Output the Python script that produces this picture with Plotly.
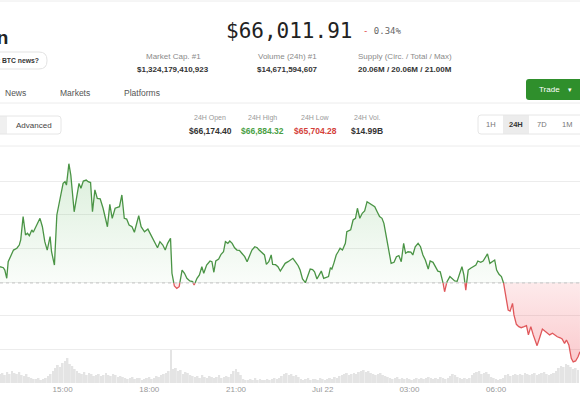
import numpy as np
import pandas as pd
import plotly.graph_objects as go

W, H = 580, 400
SANS = "Liberation Sans, Arial, sans-serif"
MONO = "DejaVu Sans Mono, monospace"

# ---------------- data ----------------
start = pd.Timestamp("2024-07-21 12:50")
view_minutes = 1204.1

minutes = [0, 7, 10, 14, 17, 24, 28, 35, 40, 43, 48, 53, 57, 61, 66, 69, 73, 77, 83, 88,
           93, 98, 104, 107, 113, 118, 123, 128, 131, 135, 138, 143, 147, 154, 159, 164, 168, 173, 179, 183,
           188, 192, 197, 202, 208, 214, 223, 228, 233, 239,
           248, 253, 258, 263, 268, 274, 279, 284, 288, 293, 300, 307, 313, 320, 327, 332, 338, 343, 348, 354,
           357, 362, 367, 372, 378, 383, 388, 394, 400, 403, 409, 414, 419, 423, 429, 436, 440, 444, 448, 454,
           459, 464, 468, 473, 477, 482,
           487, 492, 497, 502, 508, 513, 518, 523, 529, 534, 538, 544, 549, 553, 558, 563, 566, 572, 577, 582,
           587, 592, 598, 603, 608, 613, 619, 623, 628, 634, 639, 644, 649, 653, 658, 663, 667, 672, 677, 682,
           686, 689, 693, 698, 702, 706, 711, 717, 720,
           728, 733, 738, 742, 747, 752, 757, 762, 767, 772, 778, 783, 788, 793, 797, 802, 807, 812, 818, 823,
           828, 833, 838, 842, 847, 853, 857, 862, 868, 873, 878, 883, 889, 893, 899, 904, 909, 914, 918, 923,
           928, 934, 938, 944, 949, 954, 959, 963,
           967, 972, 977, 983, 988, 992, 998, 1003, 1007, 1012, 1017, 1022, 1027, 1031, 1036, 1041, 1045, 1050, 1055, 1059,
           1064, 1067, 1072, 1077, 1082, 1088, 1093, 1097, 1102, 1107, 1111, 1115, 1121, 1126, 1131, 1136, 1141, 1147, 1152, 1157,
           1163, 1167, 1172, 1176, 1181, 1186, 1190, 1195, 1200, 1204]

prices = [66271, 66265, 66251, 66202, 66301, 66341, 66370, 66381, 66400, 66430, 66569, 66460, 66470, 66456, 66490, 66476, 66500, 66519, 66559, 66509,
          66420, 66370, 66450, 66360, 66281, 66579, 66648, 66717, 66767, 66777, 66757, 66884, 66817, 66598, 66688, 66767, 66738, 66781, 66787, 66777,
          66772, 66598, 66728, 66678, 66675, 66619, 66509, 66642, 66559, 66619,
          66628, 66698, 66559, 66555, 66519, 66509, 66476, 66529, 66575, 66509, 66479, 66495, 66464, 66420, 66384, 66420, 66400, 66370, 66410, 66440,
          66232, 66156, 66142, 66152, 66251, 66232, 66202, 66186, 66182, 66162, 66202, 66222, 66271, 66232, 66281, 66305, 66301, 66238, 66305, 66317,
          66345, 66360, 66420, 66410, 66424, 66410,
          66384, 66370, 66368, 66351, 66331, 66301, 66331, 66370, 66390, 66384, 66370, 66357, 66341, 66285, 66301, 66341, 66285, 66283, 66271, 66245,
          66271, 66291, 66301, 66311, 66321, 66301, 66277, 66251, 66198, 66176, 66222, 66257, 66254, 66241, 66198, 66226, 66245, 66202, 66206, 66212,
          66265, 66257, 66291, 66341, 66360, 66381, 66370, 66410, 66479,
          66490, 66549, 66559, 66619, 66559, 66589, 66603, 66658, 66648, 66642, 66628, 66598, 66569, 66559, 66529, 66450, 66370, 66291, 66297, 66331,
          66337, 66301, 66410, 66351, 66360, 66358, 66341, 66390, 66410, 66390, 66341, 66311, 66257, 66305, 66297, 66271, 66245, 66241, 66202, 66122,
          66182, 66212, 66202, 66186, 66184, 66222, 66271, 66222,
          66132, 66251, 66262, 66271, 66281, 66305, 66297, 66305, 66321, 66347, 66291, 66301, 66311, 66251, 66226, 66212, 66182, 66083, 66013, 66007,
          66053, 65984, 65928, 65914, 65908, 65914, 65920, 65865, 65914, 65865, 65825, 65801, 65854, 65900, 65888, 65875, 65865, 65875, 65862, 65854,
          65848, 65841, 65815, 65835, 65805, 65726, 65704, 65710, 65735, 65765]

open_price = 66174.40

# volume per 5-minute bar, $M
vol_step = 5
volumes = [54, 60, 48, 66, 54, 72, 60, 54, 66, 48, 42, 54, 36, 30, 24, 24, 30, 18, 24, 30,
           42, 54, 72, 90, 108, 96, 120, 132, 150, 114, 102, 84, 72, 60, 54, 66, 48, 60, 54, 42,
           48, 54, 42, 48, 60, 48, 42, 54, 48, 36, 42, 36, 30, 24, 30, 36, 24, 30, 30, 18,
           24, 30, 36, 24, 30, 42, 36, 48, 54, 60, 72, 198, 84, 90, 72, 78, 54, 66, 60, 48,
           42, 36, 42, 30, 48, 36, 30, 42, 36, 30, 36, 48, 30, 36, 42, 36, 54, 72, 84, 66,
           48, 24, 18, 18, 24, 18, 30, 18, 24, 18, 18, 24, 18, 24, 30, 24, 30, 42, 54, 60,
           48, 54, 42, 48, 36, 24, 18, 24, 30, 18, 24, 24, 18, 30, 24, 18, 24, 30, 24, 36,
           30, 42, 48, 54, 60, 48, 54, 60, 54, 66, 72, 78, 66, 72, 60, 54, 48, 54, 60, 48,
           42, 36, 30, 24, 30, 36, 24, 30, 24, 30, 24, 18, 24, 30, 24, 30, 24, 30, 36, 30,
           24, 30, 24, 36, 30, 24, 30, 42, 54, 48, 36, 30, 24, 30, 24, 30, 48, 60, 66, 72,
           54, 60, 66, 54, 36, 30, 24, 18, 24, 30, 48, 54, 42, 48, 54, 48, 54, 48, 60, 54,
           48, 54, 60, 48, 54, 60, 66, 54, 48, 54, 60, 72, 90, 102, 96, 114, 108, 96, 84, 90,
           78]

tick_times = ["2024-07-21 15:00", "2024-07-21 18:00", "2024-07-21 21:00", "2024-07-22 00:00",
              "2024-07-22 03:00", "2024-07-22 06:00", "2024-07-22 09:00"]
tick_labels = ["15:00", "18:00", "21:00", "Jul 22", "03:00", "06:00", "09:00"]

price_text = "$66,011.91"
change_text = "0.34%"
stat_labels = ["Market Cap. #1", "Volume (24h) #1", "Supply (Circ. / Total / Max)"]
stat_values = ["$1,324,179,410,923", "$14,671,594,607", "20.06M / 20.06M / 21.00M"]
nav_items = ["News", "Markets", "Platforms"]
day_labels = ["24H Open", "24H High", "24H Low", "24H Vol."]
day_values = ["$66,174.40", "$66,884.32", "$65,704.28", "$14.99B"]
range_buttons = ["1H", "24H", "7D", "1M"]

GREEN = "#4a9445"
RED = "#e0585b"

# ---------------- derived series ----------------
xs, ys = [], []
for i, (m, p) in enumerate(zip(minutes, prices)):
    if i > 0:
        pm, pp = minutes[i - 1], prices[i - 1]
        if (pp - open_price) * (p - open_price) < 0:
            f = (open_price - pp) / (p - pp)
            xs.append(pm + f * (m - pm))
            ys.append(open_price)
    xs.append(m)
    ys.append(p)
xs = np.array(xs, dtype=float)
ys = np.array(ys, dtype=float)
t = start + pd.to_timedelta(xs, unit="min")
base = np.full(len(ys), open_price)
green = np.where(ys >= open_price, ys, np.nan)
red = np.where(ys <= open_price, ys, np.nan)

vol_t = start + pd.to_timedelta(np.arange(len(volumes)) * vol_step, unit="min")

fig = go.Figure()
common = dict(mode="lines", showlegend=False, hoverinfo="skip")
fig.add_trace(go.Scatter(x=t, y=base, line=dict(width=0), **common))
fig.add_trace(go.Scatter(x=t, y=np.maximum(ys, open_price), line=dict(width=0), fill="tonexty",
                         fillgradient=dict(type="vertical",
                                           colorscale=[[0, "rgba(90,180,90,0.03)"], [1, "rgba(90,180,90,0.22)"]],
                                           start=open_price, stop=max(prices)), **common))
fig.add_trace(go.Scatter(x=t, y=base, line=dict(width=0), **common))
fig.add_trace(go.Scatter(x=t, y=np.minimum(ys, open_price), line=dict(width=0), fill="tonexty",
                         fillgradient=dict(type="vertical",
                                           colorscale=[[0, "rgba(240,80,90,0.30)"], [1, "rgba(240,80,90,0.12)"]],
                                           start=min(prices), stop=open_price), **common))
fig.add_trace(go.Bar(x=vol_t, y=volumes, yaxis="y2", marker=dict(color="#e4e4e4", line=dict(width=0)),
                     width=4 * 60 * 1000, showlegend=False, hoverinfo="skip"))
fig.add_trace(go.Scatter(x=t, y=green, line=dict(color=GREEN, width=1.3), connectgaps=False, **common))
fig.add_trace(go.Scatter(x=t, y=red, line=dict(color=RED, width=1.3), connectgaps=False, **common))


def X(px):
    return px / W


def Y(py):
    return 1 - py / H


def rrect(x0, y0, x1, y1, r):
    return (f"M {X(x0 + r)},{Y(y0)} L {X(x1 - r)},{Y(y0)} Q {X(x1)},{Y(y0)} {X(x1)},{Y(y0 + r)} "
            f"L {X(x1)},{Y(y1 - r)} Q {X(x1)},{Y(y1)} {X(x1 - r)},{Y(y1)} "
            f"L {X(x0 + r)},{Y(y1)} Q {X(x0)},{Y(y1)} {X(x0)},{Y(y1 - r)} "
            f"L {X(x0)},{Y(y0 + r)} Q {X(x0)},{Y(y0)} {X(x0 + r)},{Y(y0)} Z")


shapes = []
for yy in (1, 103, 146):
    shapes.append(dict(type="line", xref="paper", yref="paper", x0=0, x1=1, y0=Y(yy), y1=Y(yy),
                       line=dict(color="#ececec", width=1)))
# news pill
shapes.append(dict(type="path", xref="paper", yref="paper", path=rrect(-60, 52, 47, 69, 8),
                   line=dict(color="#e3e3e3", width=1), fillcolor="white"))
# trade button
shapes.append(dict(type="path", xref="paper", yref="paper", path=rrect(526, 79, 590, 100, 3),
                   line=dict(width=0), fillcolor="#2f8f2c"))
# simple/advanced toggle
shapes.append(dict(type="rect", xref="paper", yref="paper", x0=X(-10), x1=X(7), y0=Y(134), y1=Y(116),
                   line=dict(width=0), fillcolor="#f0f0f0"))
shapes.append(dict(type="path", xref="paper", yref="paper", path=rrect(-10, 116, 61, 134, 3),
                   line=dict(color="#e6e6e6", width=1)))
# range buttons
shapes.append(dict(type="rect", xref="paper", yref="paper", x0=X(503), x1=X(529), y0=Y(134), y1=Y(115),
                   line=dict(width=0), fillcolor="#ececec"))
shapes.append(dict(type="path", xref="paper", yref="paper", path=rrect(478, 115, 600, 134, 3),
                   line=dict(color="#e6e6e6", width=1)))
# open-price baseline
shapes.append(dict(type="line", xref="paper", yref="y", x0=0, x1=1, y0=open_price, y1=open_price,
                   line=dict(color="#c4c4c4", width=1, dash="dot")))

anns = []


def ann(text, x, y, size, color, family=SANS, xanchor="center"):
    anns.append(dict(text=text, x=X(x), y=Y(y), xref="paper", yref="paper", xanchor=xanchor,
                     yanchor="middle", showarrow=False, font=dict(size=size, color=color, family=family)))


ann("<b>Bitcoin</b>", 10, 38, 19, "#222", xanchor="right")
ann("<b>Latest BTC news?</b>", 41, 61, 6.8, "#333", xanchor="right")
ann(price_text, 224, 31, 21, "#222", family=MONO, xanchor="left")
ann(f"<span style='color:#e0443f'>-</span> {change_text}", 361, 31, 9, "#666", family=MONO, xanchor="left")
for lab, val, cx in zip(stat_labels, stat_values, (173, 287, 405)):
    ann(lab, cx, 57, 8, "#8a8a8a")
    ann(f"<b>{val}</b>", cx, 69, 8, "#333")
for lab, cx in zip(nav_items, (15, 75, 142)):
    ann(lab, cx, 93, 8.5, "#555")
ann("Trade", 549, 89.5, 8, "white")
ann("▾", 570, 89.5, 7, "white")
ann("Advanced", 34, 125, 8, "#444")
day_colors = ["#333", "#4a9f45", "#d43f3a", "#333"]
for lab, val, col, cx in zip(day_labels, day_values, day_colors, (210, 262, 315, 367)):
    ann(lab, cx, 118, 7, "#999")
    ann(f"<b>{val}</b>", cx, 131, 8.5, col)
for lab, cx in zip(range_buttons, (491, 516, 542, 567)):
    if lab == "24H":
        ann(f"<b>{lab}</b>", cx, 124.5, 7.5, "#333")
    else:
        ann(lab, cx, 124.5, 7.5, "#777")

fig.update_layout(
    width=W, height=H, margin=dict(l=0, r=0, t=0, b=0),
    paper_bgcolor="white", plot_bgcolor="rgba(0,0,0,0)",
    showlegend=False, hovermode=False,
    xaxis=dict(domain=[0, 1], range=[start, start + pd.Timedelta(minutes=view_minutes)], anchor="y2",
               tickvals=tick_times, ticktext=tick_labels, showgrid=False, zeroline=False, showline=False,
               ticks="", tickfont=dict(size=8, color="#999", family=SANS)),
    yaxis=dict(domain=[Y(372), Y(150)], range=[65644.3, 66965.7], tick0=66180, dtick=200,
               showticklabels=False, gridcolor="#ececec", gridwidth=1, zeroline=False, showline=False),
    yaxis2=dict(domain=[Y(383), Y(343)], range=[0, 240], visible=False),
    shapes=shapes, annotations=anns,
)

fig.write_html("out.html")
